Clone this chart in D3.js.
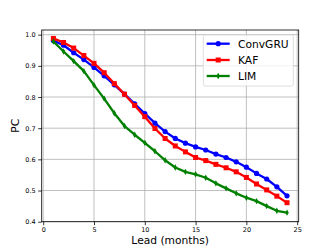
<!DOCTYPE html>
<html>
<head>
<meta charset="utf-8">
<script src="https://cdn.jsdelivr.net/npm/d3@7/dist/d3.min.js"></script>
<style>
body { margin:0; background:#fff; }
text { font-family: "DejaVu Sans", sans-serif; fill:#000; }
</style>
</head>
<body>
<div id="chart"></div>
<script>
var leads = d3.range(1, 25);
var convgru = [0.981,0.966,0.942,0.920,0.895,0.868,0.839,0.809,0.778,0.747,0.716,0.689,0.667,0.652,0.640,0.630,0.617,0.606,0.592,0.575,0.555,0.537,0.512,0.483];
var kaf = [0.988,0.975,0.957,0.933,0.908,0.878,0.843,0.809,0.773,0.737,0.699,0.667,0.643,0.624,0.606,0.596,0.584,0.573,0.560,0.542,0.521,0.502,0.482,0.461];
var lim = [0.978,0.946,0.915,0.883,0.838,0.795,0.748,0.707,0.679,0.653,0.626,0.597,0.574,0.560,0.552,0.541,0.523,0.507,0.491,0.477,0.466,0.450,0.435,0.429];
var xTicks = [0, 5, 10, 15, 20, 25];
var yTicks = [0.4, 0.5, 0.6, 0.7, 0.8, 0.9, 1.0];
var seriesNames = ["ConvGRU", "KAF", "LIM"];

var W = 332, H = 249;
var plotL = 41.7, plotR = 298.7, plotT = 30, plotB = 221.7;

var svg = d3.select("#chart").append("svg")
	.attr("width", W)
	.attr("height", H);

var x = d3.scaleLinear().domain([-0.15, 25.15]).range([plotL, plotR]);
var y = d3.scaleLinear().domain([0.4, 1.015]).range([plotB, plotT]);

// grid
svg.append("g").selectAll("line.gx")
	.data(xTicks).enter().append("line")
	.attr("x1", function(d){return x(d);}).attr("x2", function(d){return x(d);})
	.attr("y1", plotT).attr("y2", plotB)
	.attr("stroke", "#b0b0b0").attr("stroke-width", 0.8);
svg.append("g").selectAll("line.gy")
	.data(yTicks).enter().append("line")
	.attr("x1", plotL).attr("x2", plotR)
	.attr("y1", function(d){return y(d);}).attr("y2", function(d){return y(d);})
	.attr("stroke", "#b0b0b0").attr("stroke-width", 0.8);

// axes
var xAxis = svg.append("g")
	.attr("transform", "translate(0," + plotB + ")")
	.call(d3.axisBottom(x).tickValues(xTicks).tickSize(3.5).tickPadding(2).tickFormat(d3.format("d")));
var yAxis = svg.append("g")
	.attr("transform", "translate(" + plotL + ",0)")
	.call(d3.axisLeft(y).tickValues(yTicks).tickSize(3.5).tickPadding(2.5).tickFormat(d3.format(".1f")));
[xAxis, yAxis].forEach(function(a){
	a.select(".domain").remove();
	a.selectAll("line").attr("stroke", "#000").attr("stroke-width", 0.8);
	a.selectAll("text").style("font-family", "DejaVu Sans").style("font-size", "6.5px").attr("fill", "#000");
});

// frame
svg.append("rect")
	.attr("x", plotL).attr("y", plotT)
	.attr("width", plotR - plotL).attr("height", plotB - plotT)
	.attr("fill", "none").attr("stroke", "#000").attr("stroke-width", 0.8);

var line = d3.line()
	.x(function(d, i){return x(leads[i]);})
	.y(function(d){return y(d);});

function drawMarker(g, type, color, cx, cy){
	if(type == "circle"){
		g.append("circle").attr("cx", cx).attr("cy", cy).attr("r", 2.6).attr("fill", color);
	}
	else if(type == "square"){
		g.append("rect").attr("x", cx - 2.5).attr("y", cy - 2.5).attr("width", 5).attr("height", 5).attr("fill", color);
	}
	else{
		g.append("path").attr("d", "M" + cx + "," + (cy - 3.2) + "L" + (cx + 1.8) + "," + cy + "L" + cx + "," + (cy + 3.2) + "L" + (cx - 1.8) + "," + cy + "Z").attr("fill", color);
	}
}

function drawSeries(values, color, type){
	var g = svg.append("g");
	g.append("path")
		.datum(values)
		.attr("d", line)
		.attr("fill", "none")
		.attr("stroke", color)
		.attr("stroke-width", 2.3)
		.attr("stroke-linejoin", "round");
	values.forEach(function(v, i){
		drawMarker(g, type, color, x(leads[i]), y(v));
	});
}

drawSeries(convgru, "#0000ff", "circle");
drawSeries(kaf, "#ff0000", "square");
drawSeries(lim, "#008000", "diamond");

// labels
svg.append("text")
	.attr("x", (plotL + plotR) / 2).attr("y", 243.5)
	.attr("text-anchor", "middle")
	.style("font-size", "10.7px")
	.text("Lead (months)");
svg.append("text")
	.attr("transform", "translate(19," + ((plotT + plotB) / 2) + ") rotate(-90)")
	.attr("text-anchor", "middle")
	.style("font-size", "10.7px")
	.text("PC");

// legend
var legend = svg.append("g");
legend.append("rect")
	.attr("x", 203.3).attr("y", 35)
	.attr("width", 90).attr("height", 51)
	.attr("rx", 2)
	.attr("fill", "#fff").attr("fill-opacity", 0.8)
	.attr("stroke", "#d6d6d6").attr("stroke-width", 0.8);
var legendColors = ["#0000ff", "#ff0000", "#008000"];
var legendTypes = ["circle", "square", "diamond"];
var legendY = [43.7, 60, 76];
seriesNames.forEach(function(name, i){
	legend.append("line")
		.attr("x1", 206.7).attr("x2", 229.7)
		.attr("y1", legendY[i]).attr("y2", legendY[i])
		.attr("stroke", legendColors[i]).attr("stroke-width", 2.3);
	drawMarker(legend, legendTypes[i], legendColors[i], 218.2, legendY[i]);
	legend.append("text")
		.attr("x", 238).attr("y", legendY[i] + 3.8)
		.style("font-size", "10.7px")
		.text(name);
});
</script>
</body>
</html>
